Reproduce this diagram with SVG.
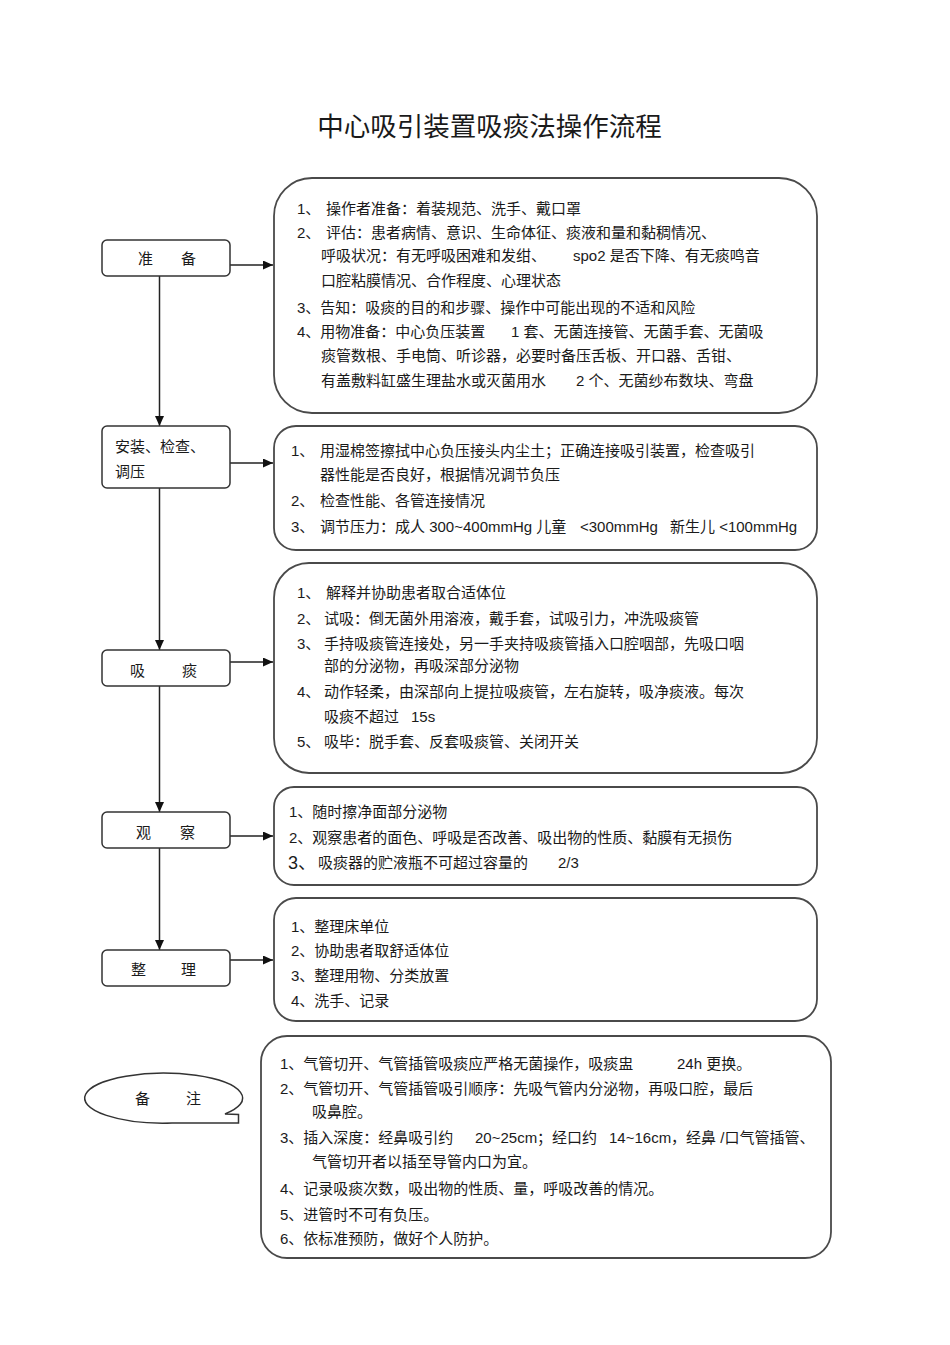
<svg xmlns="http://www.w3.org/2000/svg" width="950" height="1345" viewBox="0 0 950 1345">
<defs>
<style>
.t{font-family:"Liberation Sans","Noto Sans CJK SC",sans-serif;font-size:15px;fill:#1a1a1a;}
.title{font-family:"Liberation Sans","Noto Sans CJK SC",sans-serif;font-size:26.5px;fill:#1a1a1a;}
.node{fill:#fff;stroke:#333;stroke-width:1.5;}
.box{fill:#fff;stroke:#4a4a4a;stroke-width:1.8;}
.conn{fill:none;stroke:#222;stroke-width:1.5;marker-end:url(#arr);}
</style>
<marker id="arr" markerUnits="userSpaceOnUse" markerWidth="11" markerHeight="9" refX="10" refY="4.5" orient="auto">
<path d="M0,0 L10,4.5 L0,9 Z" fill="#111"/>
</marker>
</defs>
<rect width="950" height="1345" fill="#fff"/>
<text class="title" x="489.5" y="135.5" text-anchor="middle">中心吸引装置吸痰法操作流程</text>

<g id="connectors">
<line class="conn" x1="159.5" y1="276" x2="159.5" y2="426"/>
<line class="conn" x1="159.5" y1="488" x2="159.5" y2="650"/>
<line class="conn" x1="159.5" y1="686" x2="159.5" y2="812"/>
<line class="conn" x1="159.5" y1="848" x2="159.5" y2="950"/>
<line class="conn" x1="230" y1="265" x2="273" y2="265"/>
<line class="conn" x1="230" y1="463" x2="273" y2="463"/>
<line class="conn" x1="230" y1="662" x2="273" y2="662"/>
<line class="conn" x1="230" y1="836" x2="273" y2="836"/>
<line class="conn" x1="230" y1="960" x2="273" y2="960"/>
</g>

<g id="node-prepare">
<rect class="node" x="102" y="240" width="128" height="36" rx="5"/>
<text class="t" x="138 181" y="263.5">准备</text>
</g>
<g id="node-install">
<rect class="node" x="102" y="426" width="128" height="62" rx="5"/>
<text class="t" x="115" y="451.5">安装、检查、</text>
<text class="t" x="115" y="476.5">调压</text>
</g>
<g id="node-suction">
<rect class="node" x="102" y="650" width="128" height="36" rx="5"/>
<text class="t" x="130 182" y="675.5">吸痰</text>
</g>
<g id="node-observe">
<rect class="node" x="102" y="812" width="128" height="36" rx="5"/>
<text class="t" x="136 180" y="837.5">观察</text>
</g>
<g id="node-tidy">
<rect class="node" x="102" y="950" width="128" height="36" rx="5"/>
<text class="t" x="131 181" y="974.5">整理</text>
</g>
<g id="node-note">
<path class="node" d="M225,1113.9 L238.5,1114.5 L238.5,1123 L172,1123 A79 25 0 1 1 225,1113.9 Z"/>
<text class="t" x="135 186" y="1103.5">备注</text>
</g>

<g id="box-prepare">
<rect class="box" x="274" y="178" width="543" height="235" rx="38"/>
<text class="t" x="297" y="213.5">1、</text>
<text class="t" x="326" y="213.5">操作者准备：着装规范、洗手、戴口罩</text>
<text class="t" x="297" y="237.5">2、</text>
<text class="t" x="326" y="237.5">评估：患者病情、意识、生命体征、痰液和量和黏稠情况、</text>
<text class="t" x="321" y="260.5">呼吸状况：有无呼吸困难和发绀、</text>
<text class="t" x="573" y="260.5">spo2 是否下降、有无痰鸣音</text>
<text class="t" x="321" y="285.5">口腔粘膜情况、合作程度、心理状态</text>
<text class="t" x="297" y="312.5">3、告知：吸痰的目的和步骤、操作中可能出现的不适和风险</text>
<text class="t" x="297" y="336.5">4、用物准备：中心负压装置</text>
<text class="t" x="511" y="336.5">1 套、无菌连接管、无菌手套、无菌吸</text>
<text class="t" x="321" y="360.5">痰管数根、手电筒、听诊器，必要时备压舌板、开口器、舌钳、</text>
<text class="t" x="321" y="385.5">有盖敷料缸盛生理盐水或灭菌用水</text>
<text class="t" x="576" y="385.5">2 个、无菌纱布数块、弯盘</text>
</g>

<g id="box-install">
<rect class="box" x="274" y="426" width="543" height="124" rx="22"/>
<text class="t" x="291" y="455.5">1、</text>
<text class="t" x="320" y="455.5">用湿棉签擦拭中心负压接头内尘土；正确连接吸引装置，检查吸引</text>
<text class="t" x="320" y="479.5">器性能是否良好，根据情况调节负压</text>
<text class="t" x="291" y="505.5">2、</text>
<text class="t" x="320" y="505.5">检查性能、各管连接情况</text>
<text class="t" x="291" y="531.5">3、</text>
<text class="t" x="320" y="531.5">调节压力：成人 300~400mmHg 儿童</text>
<text class="t" x="580" y="531.5">&lt;300mmHg</text>
<text class="t" x="670" y="531.5">新生儿 &lt;100mmHg</text>
</g>

<g id="box-suction">
<rect class="box" x="274" y="563" width="543" height="210" rx="35"/>
<text class="t" x="297" y="597.5">1、</text>
<text class="t" x="326" y="597.5">解释并协助患者取合适体位</text>
<text class="t" x="297" y="623.5">2、</text>
<text class="t" x="324" y="623.5">试吸：倒无菌外用溶液，戴手套，试吸引力，冲洗吸痰管</text>
<text class="t" x="297" y="648.5">3、</text>
<text class="t" x="324" y="648.5">手持吸痰管连接处，另一手夹持吸痰管插入口腔咽部，先吸口咽</text>
<text class="t" x="324" y="670.5">部的分泌物，再吸深部分泌物</text>
<text class="t" x="297" y="696.5">4、</text>
<text class="t" x="324" y="696.5">动作轻柔，由深部向上提拉吸痰管，左右旋转，吸净痰液。每次</text>
<text class="t" x="324" y="721.5">吸痰不超过</text>
<text class="t" x="411" y="721.5">15s</text>
<text class="t" x="297" y="746.5">5、</text>
<text class="t" x="324" y="746.5">吸毕：脱手套、反套吸痰管、关闭开关</text>
</g>

<g id="box-observe">
<rect class="box" x="274" y="787" width="543" height="98" rx="20"/>
<text class="t" x="289" y="816.5">1、随时擦净面部分泌物</text>
<text class="t" x="289" y="842.5">2、观察患者的面色、呼吸是否改善、吸出物的性质、黏膜有无损伤</text>
<text class="t" x="288" y="868.5" style="font-size:18px">3、</text>
<text class="t" x="318" y="868">吸痰器的贮液瓶不可超过容量的</text>
<text class="t" x="558" y="868">2/3</text>
</g>

<g id="box-tidy">
<rect class="box" x="274" y="898" width="543" height="123" rx="22"/>
<text class="t" x="291" y="931.5">1、整理床单位</text>
<text class="t" x="291" y="955.5">2、协助患者取舒适体位</text>
<text class="t" x="291" y="980.5">3、整理用物、分类放置</text>
<text class="t" x="291" y="1005.5">4、洗手、记录</text>
</g>

<g id="box-note">
<rect class="box" x="261" y="1036" width="570" height="222" rx="26"/>
<text class="t" x="280" y="1068.5">1、气管切开、气管插管吸痰应严格无菌操作，吸痰盅</text>
<text class="t" x="677" y="1068.5">24h 更换。</text>
<text class="t" x="280" y="1093.5">2、气管切开、气管插管吸引顺序：先吸气管内分泌物，再吸口腔，最后</text>
<text class="t" x="312" y="1116.5">吸鼻腔。</text>
<text class="t" x="280" y="1142.5">3、插入深度：经鼻吸引约</text>
<text class="t" x="475" y="1142.5">20~25cm；经口约</text>
<text class="t" x="609" y="1142.5">14~16cm，经鼻 /口气管插管、</text>
<text class="t" x="312" y="1166.5">气管切开者以插至导管内口为宜。</text>
<text class="t" x="280" y="1193.5">4、记录吸痰次数，吸出物的性质、量，呼吸改善的情况。</text>
<text class="t" x="280" y="1219.5">5、进管时不可有负压。</text>
<text class="t" x="280" y="1243.5">6、依标准预防，做好个人防护。</text>
</g>
</svg>
